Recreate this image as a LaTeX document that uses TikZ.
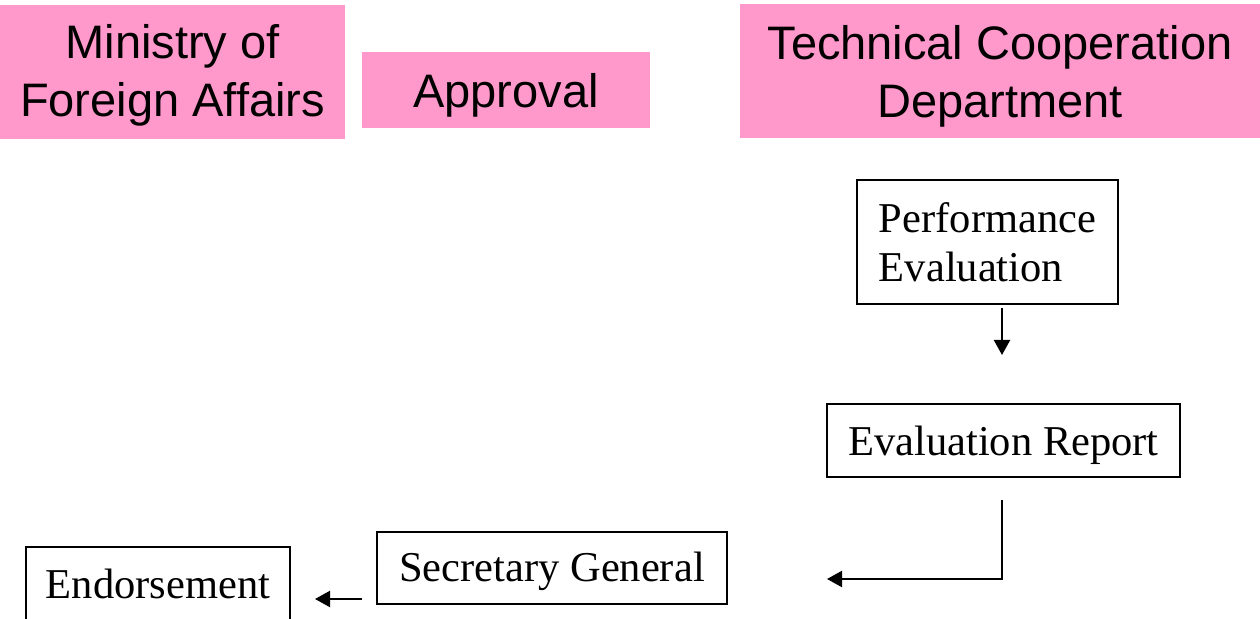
\documentclass[tikz,border=0pt]{standalone}
\usepackage{fontspec}
\setmainfont{Liberation Serif}
\newfontfamily\pinkfont{Liberation Sans}
\usetikzlibrary{arrows.meta}
\definecolor{pinkfill}{RGB}{255,153,204}
\tikzset{
  pinkbox/.style={fill=pinkfill, draw=none, inner sep=0pt, outer sep=0pt,
    font=\pinkfont\fontsize{23.5pt}{29pt}\selectfont},
  stepbox/.style={draw=black, line width=1pt, fill=white, inner sep=0pt, outer sep=0pt,
    font=\fontsize{21.25pt}{24.5pt}\selectfont},
  flow/.style={line width=1.1pt, -{Triangle[length=7.5pt,width=8pt]}}
}
\begin{document}
\begin{tikzpicture}[x=0.5pt,y=-0.5pt]
\useasboundingbox (0,0) rectangle (1260,619);
% pink headers
\node[pinkbox, minimum width=172.5pt, minimum height=67pt, text height=0pt, text depth=13pt]
  (mofa) at (172.5,72) {\begin{tabular}[t]{@{}c@{}}Ministry of\\Foreign Affairs\end{tabular}};
\node[pinkbox, minimum width=144pt, minimum height=38pt, text height=18pt, text depth=0pt]
  (approval) at (506,90) {Approval};
\node[pinkbox, minimum width=260pt, minimum height=67pt, text height=0pt, text depth=11pt]
  (tcd) at (1000,71) {\begin{tabular}[t]{@{}c@{}}Technical Cooperation\\Department\end{tabular}};
% process boxes
\node[stepbox, minimum width=130.5pt, minimum height=62pt, text height=0pt, text depth=9pt]
  (perf) at (987.5,242) {\begin{tabular}[t]{@{}l@{}}Performance\\Evaluation\end{tabular}};
\node[stepbox, minimum width=176.5pt, minimum height=36.5pt, text height=15.5pt, text depth=0pt]
  (eval) at (1003.5,440.5) {Evaluation Report};
\node[stepbox, minimum width=175pt, minimum height=36pt, text height=14pt, text depth=0pt]
  (sec) at (552,568) {Secretary General};
\node[stepbox, minimum width=132pt, minimum height=37pt, text height=15pt, text depth=0pt]
  (endorse) at (158,584) {Endorsement};
% connector ends
\coordinate (perfend) at (1002,355);
\coordinate (evalend) at (827,579);
\coordinate (secend) at (315,599);
% connectors
\draw[flow] ([xshift=7.25pt,yshift=-2pt]perf.south) -- (perfend);
\draw[flow] ([xshift=-0.75pt,yshift=-11.5pt]eval.south) |- (evalend);
\draw[flow] ([xshift=-7.5pt]sec.west |- secend) -- (secend);
\end{tikzpicture}
\end{document}
